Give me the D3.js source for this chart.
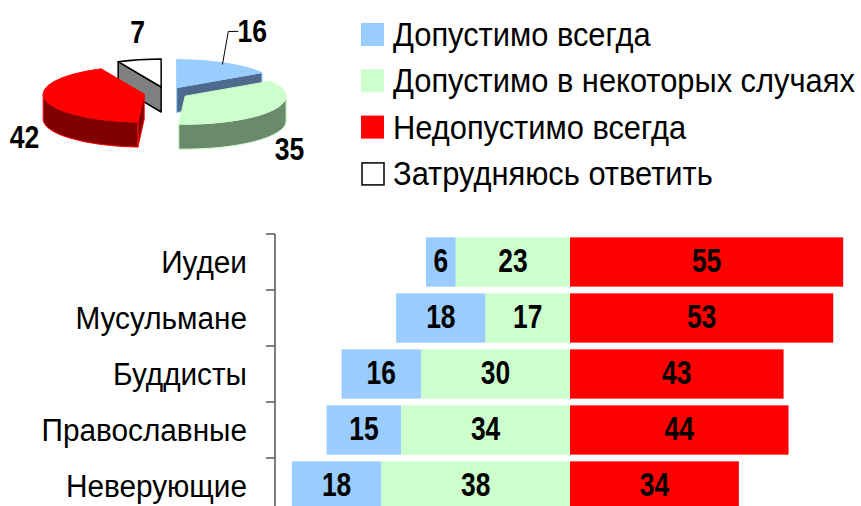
<!DOCTYPE html>
<html>
<head>
<meta charset="utf-8">
<script src="https://cdn.jsdelivr.net/npm/d3@7"></script>
<style>
  body { margin: 0; background: #fff; }
  svg { display: block; }
</style>
</head>
<body>
<script>
const width = 861, height = 506;

// данные круговой диаграммы
const pieLabels = ["Допустимо всегда", "Допустимо в некоторых случаях", "Недопустимо всегда", "Затрудняюсь ответить"];
const pieValues = [16, 35, 42, 7];

// данные по группам
const categories = ["Иудеи", "Мусульмане", "Буддисты", "Православные", "Неверующие"];
const alwaysOk = [6, 18, 16, 15, 18];
const sometimesOk = [23, 17, 30, 34, 38];
const neverOk = [55, 53, 43, 44, 34];

// цвета
const topColors = ["#99ccff", "#ccffcc", "#ff0000", "#ffffff"];
const sideColors = ["#4d6a8c", "#6b896b", "#800000", "#808080"];
const edgeColors = ["#99ccff", "#ccffcc", "#ff0000", "#000000"];

// ручная подстройка подписей круговой (как перетащено в Excel)
const pieLabelNudge = [[15, -9], [-4, 0], [4, 8], [4, -2]];

const font = "'Liberation Sans', Arial, sans-serif";

const svg = d3.select("body").append("svg")
    .attr("width", width)
    .attr("height", height);

// текст со сжатием по горизонтали (в оригинале шрифт узкий)
function label(sel, x, y, txt, size, sx, opts = {}) {
    return sel.append("text")
        .attr("transform", `translate(${x},${y}) scale(${sx},1)`)
        .attr("text-anchor", opts.anchor || "start")
        .attr("font-family", font)
        .attr("font-weight", opts.bold ? "bold" : "normal")
        .attr("font-size", size)
        .attr("fill", "#000")
        .text(txt);
}

// ---------- 3D круговая ----------
const cx = 166, cy = 93, rx = 101, ry = 28, depth = 25, explode = 0.22;
const pt = (c, a, k = 1) => [c[0] + k * rx * Math.sin(a), c[1] - k * ry * Math.cos(a)];

const arcs = d3.pie().sort(null)(pieValues);
arcs.forEach((d, i) => {
    d.i = i;
    d.mid = (d.startAngle + d.endAngle) / 2;
    d.c = pt([cx, cy], d.mid, explode);
});

const pieG = svg.append("g");
// задние сектора рисуем первыми
const order = arcs.slice().sort((a, b) => Math.cos(b.mid) - Math.cos(a.mid));

order.forEach(d => {
    const g = pieG.append("g")
        .attr("stroke", edgeColors[d.i])
        .attr("stroke-width", d.i === 3 ? 1.5 : 1)
        .attr("stroke-linejoin", "round");
    const a1 = d.startAngle, a2 = d.endAngle;

    // боковые радиальные грани
    const face = a => {
        const p = pt(d.c, a);
        return `M${d.c[0]},${d.c[1]}L${p[0]},${p[1]}L${p[0]},${p[1] + depth}L${d.c[0]},${d.c[1] + depth}Z`;
    };
    if (Math.sin(a1) < -1e-6) g.append("path").attr("d", face(a1)).attr("fill", sideColors[d.i]);
    if (Math.sin(a2) > 1e-6) g.append("path").attr("d", face(a2)).attr("fill", sideColors[d.i]);

    // внешняя дуга (видна только передняя половина)
    const s = Math.max(a1, Math.PI / 2), e = Math.min(a2, 3 * Math.PI / 2);
    if (e > s) {
        const p1 = pt(d.c, s), p2 = pt(d.c, e);
        const large = e - s > Math.PI ? 1 : 0;
        g.append("path")
            .attr("d", `M${p1[0]},${p1[1]}A${rx},${ry} 0 ${large} 1 ${p2[0]},${p2[1]}` +
                `L${p2[0]},${p2[1] + depth}A${rx},${ry} 0 ${large} 0 ${p1[0]},${p1[1] + depth}Z`)
            .attr("fill", sideColors[d.i]);
    }

    // верхняя грань
    const q1 = pt(d.c, a1), q2 = pt(d.c, a2);
    const large = a2 - a1 > Math.PI ? 1 : 0;
    g.append("path")
        .attr("d", `M${d.c[0]},${d.c[1]}L${q1[0]},${q1[1]}A${rx},${ry} 0 ${large} 1 ${q2[0]},${q2[1]}Z`)
        .attr("fill", topColors[d.i]);
});

// подписи круговой
const lx = 148, ly = 60;
arcs.forEach(d => {
    const front = Math.cos(d.mid) < 0;
    const x = cx + lx * Math.sin(d.mid) + pieLabelNudge[d.i][0];
    const y = cy - ly * Math.cos(d.mid) + (front ? depth : 0) + 11 + pieLabelNudge[d.i][1];
    if (d.i === 0) {
        // выноска к перемещённой подписи
        const tip = pt(d.c, d.mid, 0.94);
        const left = x - 15;
        pieG.append("path")
            .attr("d", `M${left + 1},${y - 11}L${left - 9},${y - 11}L${tip[0]},${tip[1]}`)
            .attr("fill", "none")
            .attr("stroke", "#000")
            .attr("stroke-width", 1);
    }
    label(pieG, x, y, d.data, 30.5, 0.87, { anchor: "middle", bold: true });
});

// ---------- легенда ----------
const legend = svg.append("g").attr("transform", "translate(361,23)");
pieLabels.forEach((t, i) => {
    const row = legend.append("g").attr("transform", `translate(0,${i * 46.3})`);
    row.append("rect")
        .attr("x", i === 3 ? 1 : 0).attr("y", i === 3 ? 1 : 0)
        .attr("width", i === 3 ? 22 : 23).attr("height", i === 3 ? 22 : 23)
        .attr("fill", topColors[i])
        .attr("stroke", i === 3 ? "#000" : "none")
        .attr("stroke-width", 1.5);
    label(row, 32, 23, t, 33, 0.935);
});

// ---------- столбцы ----------
const x = d3.scaleLinear().domain([-60, 60]).range([272, 868]);
const y = d3.scaleBand().domain(categories).range([234, 514])
    .paddingInner(0.12).paddingOuter(0.06);

const segs = [];
categories.forEach((c, i) => {
    const a = alwaysOk[i], s = sometimesOk[i], n = neverOk[i];
    segs.push({ cat: c, v: a, x0: -(a + s), x1: -s, color: topColors[0] });
    segs.push({ cat: c, v: s, x0: -s, x1: 0, color: topColors[1] });
    segs.push({ cat: c, v: n, x0: 0, x1: n, color: topColors[2] });
});

const barG = svg.append("g");
barG.selectAll("rect").data(segs).join("rect")
    .attr("x", d => x(d.x0))
    .attr("width", d => x(d.x1) - x(d.x0))
    .attr("y", d => y(d.cat))
    .attr("height", y.bandwidth())
    .attr("fill", d => d.color);

segs.forEach(d => {
    label(barG, (x(d.x0) + x(d.x1)) / 2, y(d.cat) + y.bandwidth() / 2 + 10, d.v, 33, 0.8,
        { anchor: "middle", bold: true });
});

// ось категорий
const axisX = 275;
const axisG = svg.append("g").attr("transform", `translate(${axisX},0)`);
axisG.call(d3.axisLeft(y).tickSize(0).tickPadding(28))
    .call(g => g.select(".domain").remove())
    .selectAll("text")
    .attr("x", 0)
    .attr("dy", null)
    .attr("transform", "translate(-28,11) scale(0.96,1)")
    .attr("font-family", font)
    .attr("font-size", 31)
    .attr("fill", "#000");

axisG.append("line")
    .attr("x1", 0).attr("x2", 0)
    .attr("y1", y.range()[0]).attr("y2", y.range()[1])
    .attr("stroke", "#555").attr("stroke-width", 1.5);

axisG.selectAll(".bound").data(d3.range(categories.length + 1)).join("line")
    .attr("class", "bound")
    .attr("x1", -9).attr("x2", 0)
    .attr("y1", i => y.range()[0] + i * y.step())
    .attr("y2", i => y.range()[0] + i * y.step())
    .attr("stroke", "#555").attr("stroke-width", 1.5);
</script>
</body>
</html>
